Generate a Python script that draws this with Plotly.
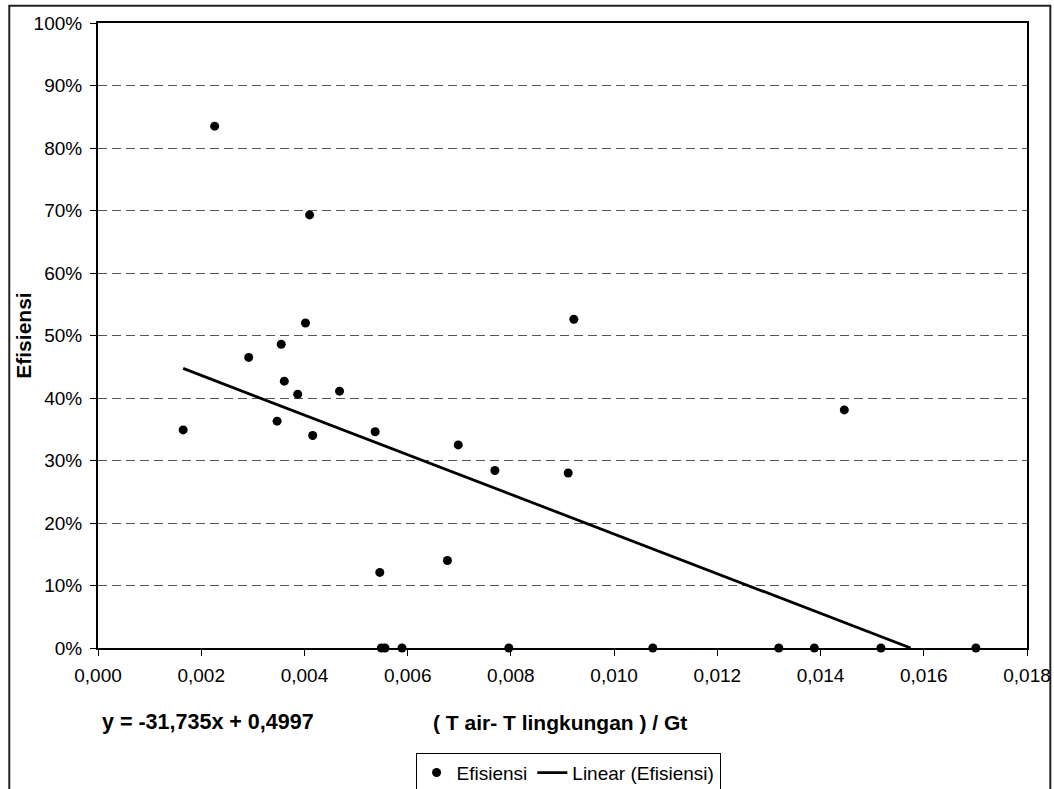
import plotly.graph_objects as go

# Data
x_vals = [0.00165, 0.00226, 0.00292, 0.00347, 0.00355, 0.00361, 0.00387, 0.00402,
          0.00410, 0.00416, 0.00468, 0.00537, 0.00546, 0.00549, 0.00556, 0.00589,
          0.00677, 0.00698, 0.00769, 0.00796, 0.00911, 0.00922, 0.01075, 0.01319,
          0.01388, 0.01446, 0.01517, 0.01701]
y_vals = [0.349, 0.835, 0.465, 0.363, 0.486, 0.427, 0.406, 0.520,
          0.693, 0.340, 0.411, 0.346, 0.121, 0.0, 0.0, 0.0,
          0.140, 0.325, 0.284, 0.0, 0.280, 0.526, 0.0, 0.0,
          0.0, 0.381, 0.0, 0.0]

slope = -31.735
intercept = 0.4997

x_tick_vals = [0.000, 0.002, 0.004, 0.006, 0.008, 0.010, 0.012, 0.014, 0.016, 0.018]
y_tick_vals = [0.0, 0.1, 0.2, 0.3, 0.4, 0.5, 0.6, 0.7, 0.8, 0.9, 1.0]

# trend line: from min x to where it meets 0 %
x_start = min(x_vals)
x_end = min(max(x_vals), -intercept / slope)
trend_x = [x_start, x_end]
trend_y = [slope * v + intercept for v in trend_x]

FONT = "Arial, 'Liberation Sans', sans-serif"

fig = go.Figure()
fig.add_trace(go.Scatter(
    x=x_vals, y=y_vals, mode="markers", name="Efisiensi",
    marker=dict(color="black", size=9), cliponaxis=False))
fig.add_trace(go.Scatter(
    x=trend_x, y=trend_y, mode="lines", name="Linear (Efisiensi)",
    line=dict(color="black", width=2.8), cliponaxis=False))

fig.update_layout(
    width=1054, height=789,
    margin=dict(l=98, r=27, t=23, b=141, pad=0, autoexpand=False),
    paper_bgcolor="white", plot_bgcolor="white",
    separators=",.",
    font=dict(family=FONT, size=19, color="black"),
    showlegend=True,
    legend=dict(orientation="h", x=0.506, y=0.046, xref="paper", yref="container",
                xanchor="center", yanchor="top",
                bordercolor="black", borderwidth=1, font=dict(size=19),
                itemwidth=30, tracegroupgap=0),
)

fig.update_xaxes(
    range=[0, 0.018], tickvals=x_tick_vals, tickformat=".3f",
    showgrid=False, zeroline=False, automargin=False,
    showline=True, linecolor="black", linewidth=2, mirror=True,
    ticks="outside", ticklen=6, tickcolor="black", tickwidth=1,
    tickfont=dict(size=19), ticklabelstandoff=3,
)
fig.update_yaxes(
    range=[0, 1], tickvals=y_tick_vals, tickformat=".0%",
    showgrid=True, gridcolor="#555555", griddash="9px,5px", gridwidth=1,
    zeroline=False, automargin=False,
    showline=True, linecolor="black", linewidth=2, mirror=True,
    ticks="outside", ticklen=6, tickcolor="black", tickwidth=1,
    tickfont=dict(size=19), ticklabelstandoff=4,
)

fig.add_annotation(text="<b>Efisiensi</b>", xref="paper", yref="paper",
                   x=-0.0805, y=0.5, textangle=-90, showarrow=False,
                   font=dict(size=21), xanchor="center", yanchor="middle")
fig.add_annotation(text="<b>( T air- T lingkungan ) / Gt</b>", xref="paper", yref="paper",
                   x=0.4976, y=-0.1184, showarrow=False,
                   font=dict(size=21), xanchor="center", yanchor="middle")
fig.add_annotation(text="<b>y = -31,735x + 0,4997</b>", xref="paper", yref="paper",
                   x=0.1187, y=-0.1184, showarrow=False,
                   font=dict(size=21.5), xanchor="center", yanchor="middle")

# outer chart border
fig.add_shape(type="rect", xref="paper", yref="paper",
              x0=-0.0955, x1=1.0251, y0=-0.25, y1=1.0277,
              line=dict(color="#222222", width=2), fillcolor="rgba(0,0,0,0)", layer="below")

fig.write_html("out.html")
